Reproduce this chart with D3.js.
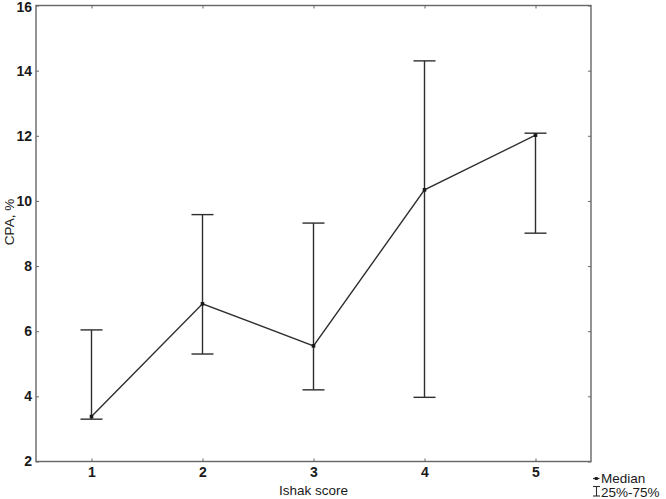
<!DOCTYPE html>
<html>
<head>
<meta charset="utf-8">
<script src="https://cdn.jsdelivr.net/npm/d3@7"></script>
<style>
  html, body { margin: 0; padding: 0; background: #fff; }
  svg { display: block; font-family: "Liberation Sans", Arial, sans-serif; }
</style>
</head>
<body>
<svg id="chart" width="666" height="499"></svg>
<script>
const categories = [1, 2, 3, 4, 5];
const medians = [3.38, 6.84, 5.55, 10.34, 12.02];
const q25 = [3.30, 5.30, 4.20, 3.97, 9.01];
const q75 = [6.04, 9.58, 9.32, 14.30, 12.08];
const yTicks = [2, 4, 6, 8, 10, 12, 14, 16];
const xLabel = "Ishak score";
const yLabel = "CPA, %";
const legendLabels = ["Median", "25%-75%"];

const svg = d3.select("#chart");
const m = { left: 36, top: 5.5, right: 591, bottom: 461.5 };

const x = d3.scaleLinear().domain([0.5, 5.5]).range([m.left, m.right]);
const y = d3.scaleLinear().domain([2, 16]).range([m.bottom, m.top]);

const frameColor = "#666";
const lineColor = "#2e2e2e";
const textColor = "#1a1a1a";

// frame
svg.append("rect")
  .attr("x", m.left).attr("y", m.top)
  .attr("width", m.right - m.left).attr("height", m.bottom - m.top)
  .attr("fill", "none").attr("stroke", frameColor).attr("stroke-width", 1.4);

// axes (inward ticks on all sides)
const tickLen = 3;
const gL = svg.append("g").attr("transform", `translate(${m.left},0)`)
  .call(d3.axisLeft(y).tickValues(yTicks).tickSize(-tickLen).tickFormat(d3.format("d")));
const gR = svg.append("g").attr("transform", `translate(${m.right},0)`)
  .call(d3.axisRight(y).tickValues(yTicks).tickSize(-tickLen).tickFormat(""));
const gB = svg.append("g").attr("transform", `translate(0,${m.bottom})`)
  .call(d3.axisBottom(x).tickValues(categories).tickSize(-tickLen).tickPadding(6).tickFormat(d3.format("d")));
const gT = svg.append("g").attr("transform", `translate(0,${m.top})`)
  .call(d3.axisTop(x).tickValues(categories).tickSize(-tickLen).tickFormat(""));

[gL, gR, gB, gT].forEach(g => {
  g.select(".domain").remove();
  g.selectAll(".tick line").attr("stroke", frameColor);
  g.selectAll(".tick text")
    .attr("fill", textColor)
    .attr("font-size", 14)
    .attr("font-weight", "bold")
    .attr("font-family", "Liberation Sans, Arial, sans-serif");
});
gL.selectAll(".tick text").attr("x", -4);
gL.selectAll(".tick").filter(d => d === 16).select("text").attr("dy", "0.45em");

// whiskers
const capW = 11;
const eb = svg.append("g").attr("stroke", lineColor).attr("stroke-width", 1.4).attr("fill", "none");
categories.forEach((c, i) => {
  eb.append("line").attr("x1", x(c)).attr("x2", x(c)).attr("y1", y(q25[i])).attr("y2", y(q75[i]));
  eb.append("line").attr("x1", x(c) - capW).attr("x2", x(c) + capW).attr("y1", y(q25[i])).attr("y2", y(q25[i]));
  eb.append("line").attr("x1", x(c) - capW).attr("x2", x(c) + capW).attr("y1", y(q75[i])).attr("y2", y(q75[i]));
});

// median line
const line = d3.line().x((d, i) => x(categories[i])).y(d => y(d));
svg.append("path").datum(medians)
  .attr("d", line).attr("fill", "none").attr("stroke", lineColor).attr("stroke-width", 1.4);
svg.append("g").selectAll("rect").data(medians).join("rect")
  .attr("x", (d, i) => x(categories[i]) - 1.8)
  .attr("y", d => y(d) - 1.8)
  .attr("width", 3.6).attr("height", 3.6)
  .attr("fill", "#1a1a1a");

// axis titles
svg.append("text")
  .attr("x", (m.left + m.right) / 2).attr("y", 495)
  .attr("text-anchor", "middle").attr("font-size", 13.5).attr("fill", textColor)
  .text(xLabel);
svg.append("text")
  .attr("transform", `translate(14,222) rotate(-90)`)
  .attr("text-anchor", "middle").attr("font-size", 13.5).attr("fill", textColor)
  .text(yLabel);

// legend
const lg = svg.append("g");
lg.append("line").attr("x1", 593).attr("x2", 599.5).attr("y1", 478.5).attr("y2", 478.5)
  .attr("stroke", lineColor).attr("stroke-width", 1.2);
lg.append("rect").attr("x", 594.8).attr("y", 477).attr("width", 3).attr("height", 3).attr("fill", "#222");
lg.append("text").attr("x", 601).attr("y", 483).attr("font-size", 13.5).attr("fill", textColor).text(legendLabels[0]);
const ix = 596.5;
lg.append("line").attr("x1", ix).attr("x2", ix).attr("y1", 486.5).attr("y2", 496).attr("stroke", lineColor).attr("stroke-width", 1.1);
lg.append("line").attr("x1", ix - 3.5).attr("x2", ix + 3.5).attr("y1", 486.5).attr("y2", 486.5).attr("stroke", lineColor).attr("stroke-width", 1.1);
lg.append("line").attr("x1", ix - 3.5).attr("x2", ix + 3.5).attr("y1", 496).attr("y2", 496).attr("stroke", lineColor).attr("stroke-width", 1.1);
lg.append("text").attr("x", 601).attr("y", 496.5).attr("font-size", 13.5).attr("fill", textColor).text(legendLabels[1]);
</script>
</body>
</html>
